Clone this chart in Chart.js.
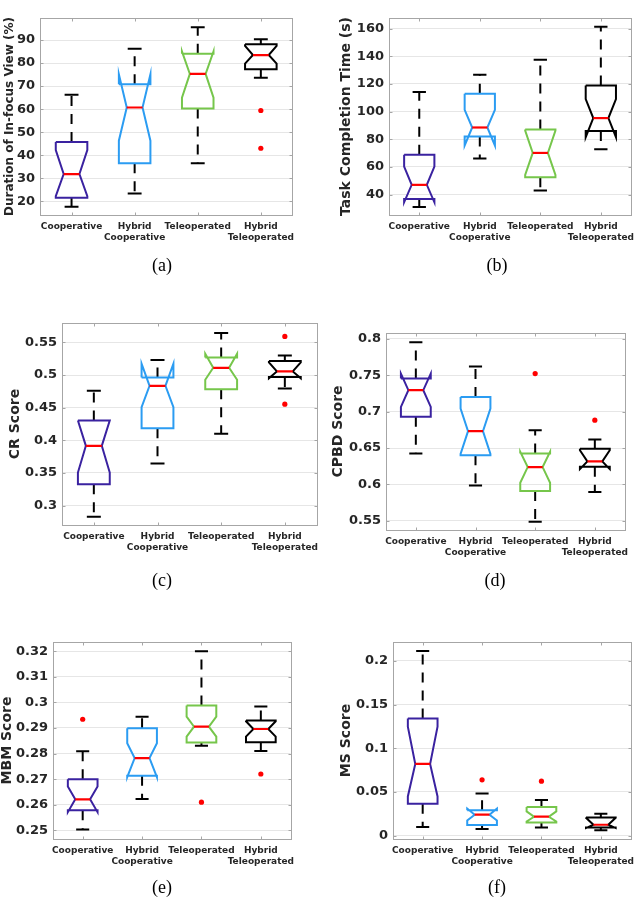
<!DOCTYPE html>
<html>
<head>
<meta charset="utf-8">
<script src="https://cdn.jsdelivr.net/npm/chart.js@4.4.1/dist/chart.umd.min.js"></script>
<style>
  body { margin: 0; background: #fff; }
  #fig { position: relative; width: 638px; height: 900px; overflow: hidden; }
  #fig canvas { position: absolute; }
  .cap { position: absolute; font-family: "Liberation Serif", "DejaVu Serif", serif; font-size: 18px; color: #000; transform: translate(-50%, -50%); }
</style>
</head>
<body>
<div id="fig"></div>
<script>
// groups on the x axis
let categories = [['Cooperative'], ['Hybrid', 'Cooperative'], ['Teleoperated'], ['Hybrid', 'Teleoperated']];
let boxColors = ['#3a22a0', '#2b9cf2', '#76c64b', '#000000'];

// (a) duration of in-focus view
let focusLo = [17.6, 23.3, 36.5, 73.6];
let focusQ1 = [21.5, 36.5, 60.3, 77.3];
let focusNotchLo = [22.2, 46.3, 65.0, 79.8];
let focusMed = [31.8, 60.7, 75.3, 83.5];
let focusNotchHi = [42.2, 75.1, 85.1, 87.5];
let focusQ3 = [45.7, 70.8, 84.1, 88.2];
let focusHi = [66.3, 86.2, 95.6, 90.4];
let focusOut = [[4, 59.4], [4, 43.0]];
let focusTicks = [20, 30, 40, 50, 60, 70, 80, 90];

// (b) task completion time
let timeLo = [31, 66, 43, 72.8];
let timeQ1 = [36.8, 82, 52.5, 86];
let timeNotchLo = [34.4, 75.5, 54.2, 81.5];
let timeMed = [47, 88.5, 70.1, 95.3];
let timeNotchHi = [60.2, 101.3, 86.3, 109];
let timeQ3 = [68.7, 112.9, 87, 118.9];
let timeHi = [114.1, 126.7, 137.5, 161.4];
let timeOut = [];
let timeTicks = [40, 60, 80, 100, 120, 140, 160];

// (c) CR score
let crLo = [0.2831, 0.3644, 0.41, 0.4794];
let crQ1 = [0.3327, 0.4186, 0.4784, 0.4968];
let crNotchLo = [0.3506, 0.4508, 0.4927, 0.495];
let crMed = [0.3915, 0.4835, 0.5111, 0.5055];
let crNotchHi = [0.4304, 0.5173, 0.5326, 0.5193];
let crQ3 = [0.4304, 0.4963, 0.527, 0.5214];
let crHi = [0.4759, 0.5229, 0.5643, 0.53];
let crOut = [[4, 0.5592], [4, 0.4554]];
let crTicks = [0.3, 0.35, 0.4, 0.45, 0.5, 0.55];

// (d) CPBD score
let cpbdLo = [0.6425, 0.5985, 0.5486, 0.5894];
let cpbdQ1 = [0.6929, 0.6402, 0.5907, 0.6242];
let cpbdNotchLo = [0.7066, 0.642, 0.6022, 0.621];
let cpbdMed = [0.7295, 0.6732, 0.6237, 0.6315];
let cpbdNotchHi = [0.7524, 0.7043, 0.6448, 0.647];
let cpbdQ3 = [0.7455, 0.7203, 0.6425, 0.6489];
let cpbdHi = [0.7954, 0.762, 0.6745, 0.6617];
let cpbdOut = [[3, 0.7524], [4, 0.6883]];
let cpbdTicks = [0.55, 0.6, 0.65, 0.7, 0.75, 0.8];

// (e) MBM score
let mbmLo = [0.2503, 0.2622, 0.283, 0.281];
let mbmQ1 = [0.2578, 0.2713, 0.2843, 0.2844];
let mbmNotchLo = [0.2571, 0.2708, 0.2866, 0.2866];
let mbmMed = [0.2621, 0.2782, 0.2905, 0.2896];
let mbmNotchHi = [0.2671, 0.284, 0.2944, 0.2926];
let mbmQ3 = [0.27, 0.2899, 0.2988, 0.2929];
let mbmHi = [0.2809, 0.2944, 0.32, 0.2984];
let mbmOut = [[1, 0.2934], [3, 0.261], [4, 0.272]];
let mbmTicks = [0.25, 0.26, 0.27, 0.28, 0.29, 0.3, 0.31, 0.32];

// (f) MS score
let msLo = [0.0099, 0.0076, 0.0095, 0.0061];
let msQ1 = [0.0365, 0.0122, 0.0152, 0.0095];
let msNotchLo = [0.0449, 0.0175, 0.0163, 0.0087];
let msMed = [0.0821, 0.024, 0.0217, 0.0125];
let msNotchHi = [0.1247, 0.031, 0.0278, 0.0205];
let msQ3 = [0.1342, 0.029, 0.0327, 0.0209];
let msHi = [0.2114, 0.0483, 0.0407, 0.0251];
let msOut = [[2, 0.0639], [3, 0.0624]];
let msTicks = [0, 0.05, 0.1, 0.15, 0.2];

let panels = [
  { cap: '(a)', title: 'Duration of In-focus View (%)', titleSize: 12, min: 14, max: 99.6, ticks: focusTicks,
    lo: focusLo, q1: focusQ1, nLo: focusNotchLo, med: focusMed, nHi: focusNotchHi, q3: focusQ3, hi: focusHi, out: focusOut,
    area: [40, 18, 293, 215], titleX: 10, capXY: [162, 265] },
  { cap: '(b)', title: 'Task Completion Time (s)', titleSize: 14, min: 25.2, max: 167.7, ticks: timeTicks,
    lo: timeLo, q1: timeQ1, nLo: timeNotchLo, med: timeMed, nHi: timeNotchHi, q3: timeQ3, hi: timeHi, out: timeOut,
    area: [389, 18, 633, 215], titleX: 346, capXY: [497, 265] },
  { cap: '(c)', title: 'CR Score', titleSize: 14, min: 0.2703, max: 0.5797, ticks: crTicks,
    lo: crLo, q1: crQ1, nLo: crNotchLo, med: crMed, nHi: crNotchHi, q3: crQ3, hi: crHi, out: crOut,
    area: [62, 323, 317, 525], titleX: 15, capXY: [162, 580] },
  { cap: '(d)', title: 'CPBD Score', titleSize: 14, min: 0.5372, max: 0.8082, ticks: cpbdTicks,
    lo: cpbdLo, q1: cpbdQ1, nLo: cpbdNotchLo, med: cpbdMed, nHi: cpbdNotchHi, q3: cpbdQ3, hi: cpbdHi, out: cpbdOut,
    area: [386, 333, 627, 530], titleX: 338, capXY: [495, 580] },
  { cap: '(e)', title: 'MBM Score', titleSize: 14, min: 0.2466, max: 0.3236, ticks: mbmTicks,
    lo: mbmLo, q1: mbmQ1, nLo: mbmNotchLo, med: mbmMed, nHi: mbmNotchHi, q3: mbmQ3, hi: mbmHi, out: mbmOut,
    area: [53, 642, 293, 839], titleX: 7, capXY: [162, 887] },
  { cap: '(f)', title: 'MS Score', titleSize: 14, min: -0.0038, max: 0.2217, ticks: msTicks,
    lo: msLo, q1: msQ1, nLo: msNotchLo, med: msMed, nHi: msNotchHi, q3: msQ3, hi: msHi, out: msOut,
    area: [393, 642, 633, 839], titleX: 346, capXY: [497, 887] }
];

let W = 0.25;   // box half width
let C = 0.11;   // whisker cap half width
let fig = document.getElementById('fig');

// gray frame round the plot with small inward ticks, like matlab's box on
let framePlugin = {
  id: 'frame',
  afterDatasetsDraw(chart) {
    let a = chart.chartArea;
    let ctx = chart.ctx;
    let l = Math.round(a.left) + 0.5, t = Math.round(a.top) + 0.5;
    let r = Math.round(a.right) + 0.5, b = Math.round(a.bottom) + 0.5;
    ctx.save();
    ctx.strokeStyle = '#a6a6a6';
    ctx.lineWidth = 1;
    ctx.strokeRect(l, t, r - l, b - t);
    ctx.beginPath();
    chart.scales.x.ticks.forEach(tk => {
      let px = Math.round(chart.scales.x.getPixelForValue(tk.value)) + 0.5;
      ctx.moveTo(px, b); ctx.lineTo(px, b - 3);
      ctx.moveTo(px, t); ctx.lineTo(px, t + 3);
    });
    chart.scales.y.ticks.forEach(tk => {
      let py = Math.round(chart.scales.y.getPixelForValue(tk.value)) + 0.5;
      ctx.moveTo(l, py); ctx.lineTo(l + 3, py);
      ctx.moveTo(r, py); ctx.lineTo(r - 3, py);
    });
    ctx.stroke();
    ctx.restore();
  }
};

function line(points, color, width, dash) {
  return {
    data: points, showLine: true, borderColor: color, borderWidth: width,
    borderDash: dash || [], pointRadius: 0, fill: false, tension: 0, spanGaps: false
  };
}

function boxDatasets(p) {
  let medians = [], outlines = [], caps = [], whiskers = [];
  for (let i = 0; i < 4; i++) {
    let x = i + 1;
    medians.push(line([{ x: x - W / 2, y: p.med[i] }, { x: x + W / 2, y: p.med[i] }], '#ff0000', 2.2));
    outlines.push(line([
      { x: x - W, y: p.q3[i] }, { x: x - W, y: p.nHi[i] }, { x: x - W / 2, y: p.med[i] },
      { x: x - W, y: p.nLo[i] }, { x: x - W, y: p.q1[i] }, { x: x + W, y: p.q1[i] },
      { x: x + W, y: p.nLo[i] }, { x: x + W / 2, y: p.med[i] }, { x: x + W, y: p.nHi[i] },
      { x: x + W, y: p.q3[i] }, { x: x - W, y: p.q3[i] }
    ], boxColors[i], 2));
    caps.push(line([
      { x: x - C, y: p.hi[i] }, { x: x + C, y: p.hi[i] }, { x: x, y: null },
      { x: x - C, y: p.lo[i] }, { x: x + C, y: p.lo[i] }
    ], '#000000', 2));
    whiskers.push(line([
      { x: x, y: p.q3[i] }, { x: x, y: p.hi[i] }, { x: x, y: null },
      { x: x, y: p.q1[i] }, { x: x, y: p.lo[i] }
    ], '#000000', 2, [10, 8]));
  }
  let outliers = {
    data: p.out.map(o => ({ x: o[0], y: o[1] })), showLine: false,
    pointRadius: 2.6, pointBackgroundColor: '#ff0000', pointBorderWidth: 0
  };
  // first dataset is painted on top
  return [outliers].concat(medians, outlines, caps, whiskers);
}

function drawPanel(p) {
  let halfTitle = p.titleSize * 1.2 / 2;
  let left = Math.round(p.titleX - halfTitle);
  let padTop = 18;
  let top = p.area[1] - padTop;
  let width = p.area[2] + 8 - left;
  let height = p.area[3] + 42 - top;

  let canvas = document.createElement('canvas');
  canvas.width = width;
  canvas.height = height;
  canvas.style.left = left + 'px';
  canvas.style.top = top + 'px';
  fig.appendChild(canvas);

  let cap = document.createElement('div');
  cap.className = 'cap';
  cap.textContent = p.cap;
  cap.style.left = p.capXY[0] + 'px';
  cap.style.top = p.capXY[1] + 'px';
  fig.appendChild(cap);

  return new Chart(canvas, {
    type: 'scatter',
    data: { datasets: boxDatasets(p) },
    options: {
      responsive: false,
      animation: false,
      layout: { padding: { top: padTop, right: 8, left: 0, bottom: 0 } },
      plugins: { legend: { display: false }, tooltip: { enabled: false } },
      scales: {
        x: {
          type: 'linear', min: 0.5, max: 4.5,
          afterBuildTicks: ax => { ax.ticks = categories.map((c, i) => ({ value: i + 1 })); },
          afterFit: ax => { ax.height = 42; },
          ticks: {
            callback: v => categories[Math.round(v) - 1],
            font: { family: 'DejaVu Sans', weight: 'bold', size: 9 },
            color: '#262626', padding: 6, maxRotation: 0, autoSkip: false
          },
          grid: { display: false, drawTicks: false },
          border: { color: '#a6a6a6' }
        },
        y: {
          type: 'linear', min: p.min, max: p.max,
          afterBuildTicks: ax => { ax.ticks = p.ticks.map(v => ({ value: v })); },
          afterFit: ax => { ax.width = p.area[0] - left; },
          ticks: {
            callback: v => String(v),
            font: { family: 'DejaVu Sans', weight: 'bold', size: 13 },
            color: '#262626', padding: 5
          },
          grid: { color: '#e6e6e6', drawTicks: false },
          border: { color: '#a6a6a6' },
          title: {
            display: true, text: p.title, padding: 0, color: '#262626',
            font: { family: 'DejaVu Sans', weight: 'bold', size: p.titleSize }
          }
        }
      }
    },
    plugins: [framePlugin]
  });
}

panels.forEach(drawPanel);
</script>
</body>
</html>
